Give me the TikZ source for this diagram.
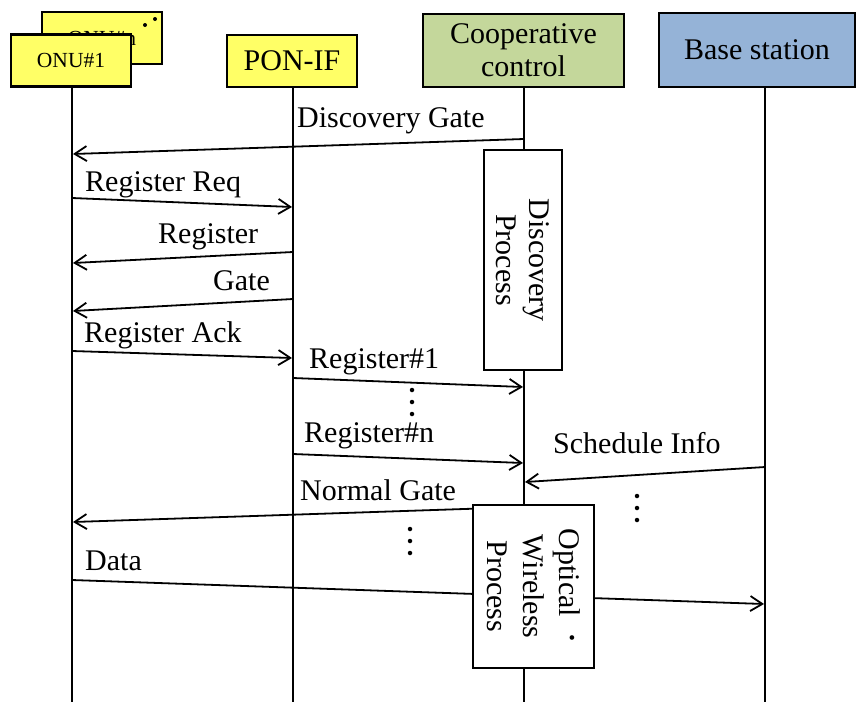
\documentclass[tikz,border=0pt]{standalone}
\usepackage{fontspec}
\setmainfont{Liberation Serif}
\usetikzlibrary{arrows.meta}
\definecolor{onuyellow}{RGB}{255,255,102}
\definecolor{ccgreen}{RGB}{196,215,155}
\definecolor{bsblue}{RGB}{149,179,215}
\begin{document}
\begin{tikzpicture}[x=1pt,y=-1pt,
  actor/.style={draw=black, line width=2.8pt, rectangle, inner sep=0pt, align=center,
                font=\fontsize{30}{33}\selectfont},
  onubox/.style={actor, fill=onuyellow, minimum width=120pt, minimum height=52pt,
                 font=\fontsize{21.5}{24}\selectfont},
  life/.style={line width=1.8pt},
  msg/.style={line width=1.8pt, -{Straight Barb[length=12pt,width=15pt,line width=1.8pt]}},
  lbl/.style={anchor=base west, inner sep=0pt, font=\fontsize{30}{33}\selectfont},
  proc/.style={draw=black, fill=white, line width=2.8pt, rectangle, inner sep=0pt,
               align=center, rotate=-90},
  dotm/.style={circle, fill=black, inner sep=0pt, minimum size=4.5pt}
]
\useasboundingbox (0,0) rectangle (858,702);

% actors
\node[onubox] (onun) at (102,38) {ONU\#n};
\node[dotm, minimum size=4pt] (dn1) at (145,25) {};
\node[dotm, minimum size=4pt] (dn2) at (155,19) {};
\node[onubox] (onu1) at (71,60.5) {ONU\#1};
\node[actor, fill=onuyellow, minimum width=130pt, minimum height=52pt] (pon) at (292,61) {PON-IF};
\node[actor, fill=ccgreen, minimum width=201pt, minimum height=73pt] (cc) at (523.5,50.5) {Cooperative\\control};
\node[actor, fill=bsblue, minimum width=196pt, minimum height=74pt] (bs) at (757,50) {Base station};

% lifelines
\coordinate (L1) at (72,702);
\coordinate (L2) at (293,702);
\coordinate (L3) at (524,702);
\coordinate (L4) at (765,702);
\draw[life] (onu1.south -| L1) -- (L1);
\draw[life] (pon.south -| L2) -- (L2);
\draw[life] (cc.south -| L3) -- (L3);
\draw[life] (bs.south -| L4) -- (L4);

% message endpoints
\coordinate (dgA) at (524,139);  \coordinate (dgB) at (73,154);
\coordinate (rqA) at (72,198);   \coordinate (rqB) at (292,207);
\coordinate (rgA) at (293,252);  \coordinate (rgB) at (73,263);
\coordinate (gtA) at (293,299);  \coordinate (gtB) at (73,311);
\coordinate (raA) at (72,351);   \coordinate (raB) at (292,358);
\coordinate (r1A) at (293,378);  \coordinate (r1B) at (523,387);
\coordinate (rnA) at (293,454);  \coordinate (rnB) at (523,463);
\coordinate (siA) at (765,467);  \coordinate (siB) at (525,482);
\coordinate (ngA) at (524,507);  \coordinate (ngB) at (73,522);
\coordinate (daA) at (72,580);   \coordinate (daB) at (764,604);

\draw[msg] (dgA) -- (dgB);
\draw[msg] (rqA) -- (rqB);
\draw[msg] (rgA) -- (rgB);
\draw[msg] (gtA) -- (gtB);
\draw[msg] (raA) -- (raB);
\draw[msg] (r1A) -- (r1B);
\draw[msg] (rnA) -- (rnB);
\draw[msg] (siA) -- (siB);
\draw[msg] (ngA) -- (ngB);
\draw[msg] (daA) -- (daB);

% process boxes
\node[proc, minimum width=220pt, minimum height=78pt,
      font=\fontsize{30}{33}\selectfont] (disc) at (523,260) {Discovery\\Process};
\node[proc, minimum width=163pt, minimum height=121pt,
      font=\fontsize{30}{36}\selectfont] (ow) at (533.5,586.5) {Optical\hspace{14pt}\scalebox{1.3}{\textperiodcentered}\\Wireless\\Process};

% labels
\node[lbl] (tdg) at (297,127) {Discovery Gate};
\node[lbl] (trq) at (85,191) {Register Req};
\node[lbl] (trg) at (158,243) {Register};
\node[lbl] (tgt) at (213,290) {Gate};
\node[lbl] (tra) at (84,342) {Register Ack};
\node[lbl] (tr1) at (309,368) {Register\#1};
\node[lbl] (trn) at (304,442) {Register\#n};
\node[lbl] (tsi) at (553,453) {Schedule Info};
\node[lbl] (tng) at (300,500) {Normal Gate};
\node[lbl] (tda) at (85,570) {Data};

% ellipsis dots
\node[dotm] (va1) at (412,390) {};
\node[dotm] (va2) at (412,402) {};
\node[dotm] (va3) at (412,414) {};
\node[dotm] (vb1) at (637,496) {};
\node[dotm] (vb2) at (637,508) {};
\node[dotm] (vb3) at (637,520) {};
\node[dotm] (vc1) at (410,529) {};
\node[dotm] (vc2) at (410,541) {};
\node[dotm] (vc3) at (410,553) {};
\end{tikzpicture}
\end{document}
